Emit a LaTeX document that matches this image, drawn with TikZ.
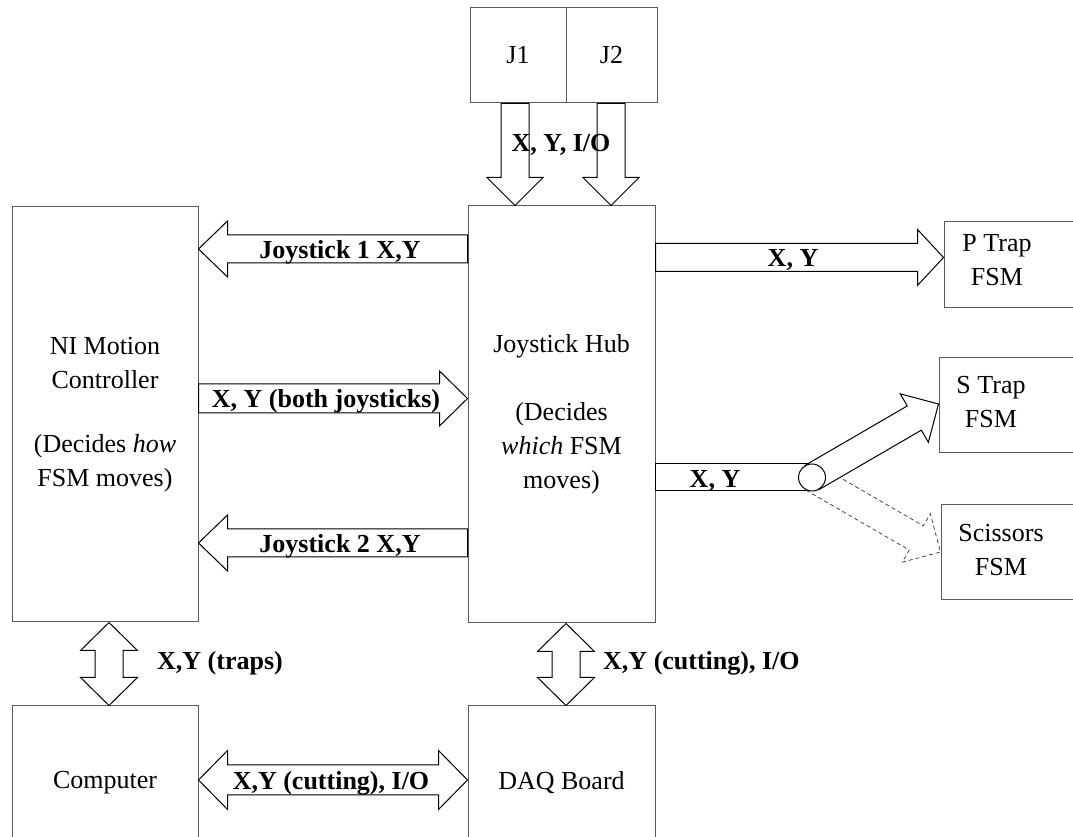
\documentclass[tikz,border=0pt]{standalone}
\usepackage{fontspec}
\setmainfont{Liberation Serif}
\usetikzlibrary{calc}

\tikzset{
  box/.style={draw=black!65, line width=1pt, fill=white, inner sep=0pt},
  txt/.style={font=\fontsize{26}{34}\selectfont, align=center, inner sep=0pt},
  lab/.style={font=\fontsize{26}{34}\selectfont\bfseries, inner sep=0pt, anchor=base},
  % half shaft width / half head width / head length
  fatdims/.code args={#1/#2/#3}{\def\fsw{#1}\def\fhw{#2}\def\fhl{#3}},
  fatdims=14/28/28,
  fatline/.style={draw=black, fill=white, line width=1pt, line join=miter},
  % single-headed block arrow from start to target
  fat/.style={fatline, to path={
    let \p1=(\tikztostart), \p2=(\tikztotarget),
        \n1={atan2(\y2-\y1,\x2-\x1)}, \n2={veclen(\x2-\x1,\y2-\y1)} in
    ($(\p1)+(\n1+90:\fsw)$)
    -- ($(\p1)+(\n1:{\n2-\fhl})+(\n1+90:\fsw)$)
    -- ($(\p1)+(\n1:{\n2-\fhl})+(\n1+90:\fhw)$)
    -- (\p2)
    -- ($(\p1)+(\n1:{\n2-\fhl})+(\n1-90:\fhw)$)
    -- ($(\p1)+(\n1:{\n2-\fhl})+(\n1-90:\fsw)$)
    -- ($(\p1)+(\n1-90:\fsw)$) -- cycle}},
  % double-headed block arrow
  fatboth/.style={fatline, to path={
    let \p1=(\tikztostart), \p2=(\tikztotarget),
        \n1={atan2(\y2-\y1,\x2-\x1)}, \n2={veclen(\x2-\x1,\y2-\y1)} in
    (\p1)
    -- ($(\p1)+(\n1:\fhl)+(\n1+90:\fhw)$)
    -- ($(\p1)+(\n1:\fhl)+(\n1+90:\fsw)$)
    -- ($(\p1)+(\n1:{\n2-\fhl})+(\n1+90:\fsw)$)
    -- ($(\p1)+(\n1:{\n2-\fhl})+(\n1+90:\fhw)$)
    -- (\p2)
    -- ($(\p1)+(\n1:{\n2-\fhl})+(\n1-90:\fhw)$)
    -- ($(\p1)+(\n1:{\n2-\fhl})+(\n1-90:\fsw)$)
    -- ($(\p1)+(\n1:\fhl)+(\n1-90:\fsw)$)
    -- ($(\p1)+(\n1:\fhl)+(\n1-90:\fhw)$)
    -- cycle}},
  % headless band
  fatbar/.style={fatline, to path={
    let \p1=(\tikztostart), \p2=(\tikztotarget),
        \n1={atan2(\y2-\y1,\x2-\x1)} in
    ($(\p1)+(\n1+90:\fsw)$) -- ($(\p2)+(\n1+90:\fsw)$)
    -- ($(\p2)+(\n1-90:\fsw)$) -- ($(\p1)+(\n1-90:\fsw)$) -- cycle}}
}

\begin{document}
\begin{tikzpicture}[x=1pt,y=1pt]
\useasboundingbox (0,0) rectangle (1073,837);
\clip (0,0) rectangle (1073,837);

% ---- blocks ----
\node[box, minimum width=96pt, minimum height=95pt] (j1) at (518,781.5) {};
\node[box, minimum width=91pt, minimum height=95pt] (j2) at (611.5,781.5) {};
\node[txt] (j1t) at (518,781.5) {J1};
\node[txt] (j2t) at (611.5,781.5) {J2};

\node[box, txt, minimum width=186pt, minimum height=415pt] (ni) at (105,422.5)
  {NI Motion\\Controller\\[30pt](Decides \textit{how}\\FSM moves)};
\node[box, txt, minimum width=187pt, minimum height=417pt] (hub) at (561.5,422.5)
  {Joystick Hub\\[34pt](Decides\\\textit{which} FSM\\moves)};

\node[box, minimum width=146pt, minimum height=86pt] (ptrap) at (1017,572) {};
\node[txt] (ptrapt) at (997,577) {P Trap\\FSM};
\node[box, minimum width=151pt, minimum height=95pt] (strap) at (1014.5,431.5) {};
\node[txt] (strapt) at (991,435) {S Trap\\FSM};
\node[box, minimum width=149pt, minimum height=95pt] (scis) at (1015.5,284.5) {};
\node[txt] (scist) at (1001,287) {Scissors\\FSM};

\node[box, txt, minimum width=186pt, minimum height=154pt] (comp) at (105,54) {Computer};
\node[box, txt, minimum width=187pt, minimum height=154pt] (daq) at (561.5,54) {DAQ Board};

% ---- joystick inputs ----
\draw[fat] (j1.south -| 515,0) to (hub.north -| 515,0);
\draw[fat] (j2.south -| 611,0) to (hub.north -| 611,0);

% ---- hub <-> motion controller ----
\draw[fat, fatdims=14/28/29] (hub.west |- 0,588) to (ni.east |- 0,588);
\draw[fat, fatdims=14.5/27.5/28] (ni.east |- 0,438.5) to (hub.west |- 0,438.5);
\draw[fat, fatdims=14/28/29] (hub.west |- 0,294) to (ni.east |- 0,294);

% ---- hub -> trap FSMs ----
\draw[fat, fatdims=14/28/26] (hub.east |- 0,579.5) to (ptrap.west |- 0,579.5);
\coordinate (sw) at (812,359.5);
\draw[fatbar, fatdims=13.5/13.5/0] (hub.east |- sw) to (sw);
\draw[fat, dashed, draw=black!80, line width=0.7pt, dash pattern=on 4pt off 3pt]
  (sw) to (scis.west |- 0,285);
\draw[fat] (sw) to (strap.west |- 0,433);
\node[circle, draw, fill=white, line width=1pt, minimum size=27pt, inner sep=0pt] (swc) at (sw) {};

% ---- bottom links ----
\draw[fatboth, fatdims=14/28.5/28] (ni.south -| 109,0) to (comp.north -| 109,0);
\draw[fatboth, fatdims=14/28.5/28] (hub.south -| 566,0) to (daq.north -| 566,0);
\draw[fatboth, fatdims=15/29.5/29] (comp.east |- 0,57) to (daq.west |- 0,57);

% ---- signal labels ----
\node[lab] (ljio) at (561,685) {X, Y, I/O};
\node[lab] (lj1) at (340,578) {Joystick 1 X,Y};
\node[lab] (lboth) at (326,429) {X, Y (both joysticks)};
\node[lab] (lj2) at (340,284) {Joystick 2 X,Y};
\node[lab] (lpt) at (793,570) {X, Y};
\node[lab] (lsw) at (715,349.5) {X, Y};
\node[lab, anchor=base west] (ltraps) at (157,167) {X,Y (traps)};
\node[lab, anchor=base west] (lcut) at (603,167) {X,Y (cutting), I/O};
\node[lab] (lcut2) at (331,47) {X,Y (cutting), I/O};
\end{tikzpicture}
\end{document}
